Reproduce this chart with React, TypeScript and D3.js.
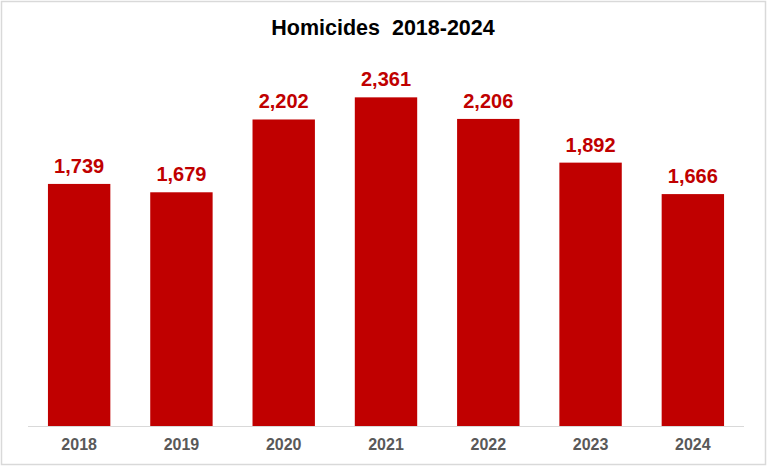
import { useMemo } from "react"
import * as d3 from "d3"

const years = ["2018", "2019", "2020", "2021", "2022", "2023", "2024"]
const homicides = [1739, 1679, 2202, 2361, 2206, 1892, 1666]
const title = "Homicides  2018-2024"

const WIDTH = 768
const HEIGHT = 468
const PLOT_LEFT = 28
const PLOT_RIGHT = 744
const BASELINE = 426
const BAR_RED = "#C00000"
const FONT = "'Liberation Sans', Arial, Helvetica, sans-serif"

export default function App() {
  const x = useMemo(
    () =>
      d3
        .scaleBand<string>()
        .domain(years)
        .range([PLOT_LEFT, PLOT_RIGHT])
        .paddingInner(0.39)
        .paddingOuter(0.195),
    []
  )

  // 1739 -> 242px tall, so 2500 maps to ~348px
  const y = useMemo(
    () => d3.scaleLinear().domain([0, 2500]).range([BASELINE, BASELINE - 348]),
    []
  )

  const fmt = d3.format(",")

  return (
    <svg
      width={WIDTH}
      height={HEIGHT}
      viewBox={`0 0 ${WIDTH} ${HEIGHT}`}
      style={{ position: "absolute", left: 0, top: 0, background: "#fff" }}
    >
      <rect
        x={1.5}
        y={1.5}
        width={WIDTH - 4}
        height={HEIGHT - 5}
        fill="#fff"
        stroke="#d9d9d9"
        strokeWidth={1.5}
      />

      <text
        x={383}
        y={35}
        textAnchor="middle"
        fontFamily={FONT}
        fontWeight="bold"
        fontSize={21.5}
        fill="#000"
        style={{ whiteSpace: "pre" }}
      >
        {title}
      </text>

      {years.map((yr, i) => {
        const v = homicides[i]
        const bx = x(yr) ?? 0
        const cx = bx + x.bandwidth() / 2
        return (
          <g key={yr}>
            <rect
              x={bx}
              y={y(v)}
              width={x.bandwidth()}
              height={BASELINE - y(v)}
              fill={BAR_RED}
            />
            <text
              x={cx}
              y={y(v) - 11}
              textAnchor="middle"
              fontFamily={FONT}
              fontWeight="bold"
              fontSize={20}
              fill={BAR_RED}
            >
              {fmt(v)}
            </text>
            <text
              x={cx}
              y={449.5}
              textAnchor="middle"
              fontFamily={FONT}
              fontWeight="bold"
              fontSize={16}
              fill="#595959"
            >
              {yr}
            </text>
          </g>
        )
      })}

      <line
        x1={PLOT_LEFT}
        x2={PLOT_RIGHT}
        y1={BASELINE + 0.5}
        y2={BASELINE + 0.5}
        stroke="#d9d9d9"
        strokeWidth={1}
      />
    </svg>
  )
}
